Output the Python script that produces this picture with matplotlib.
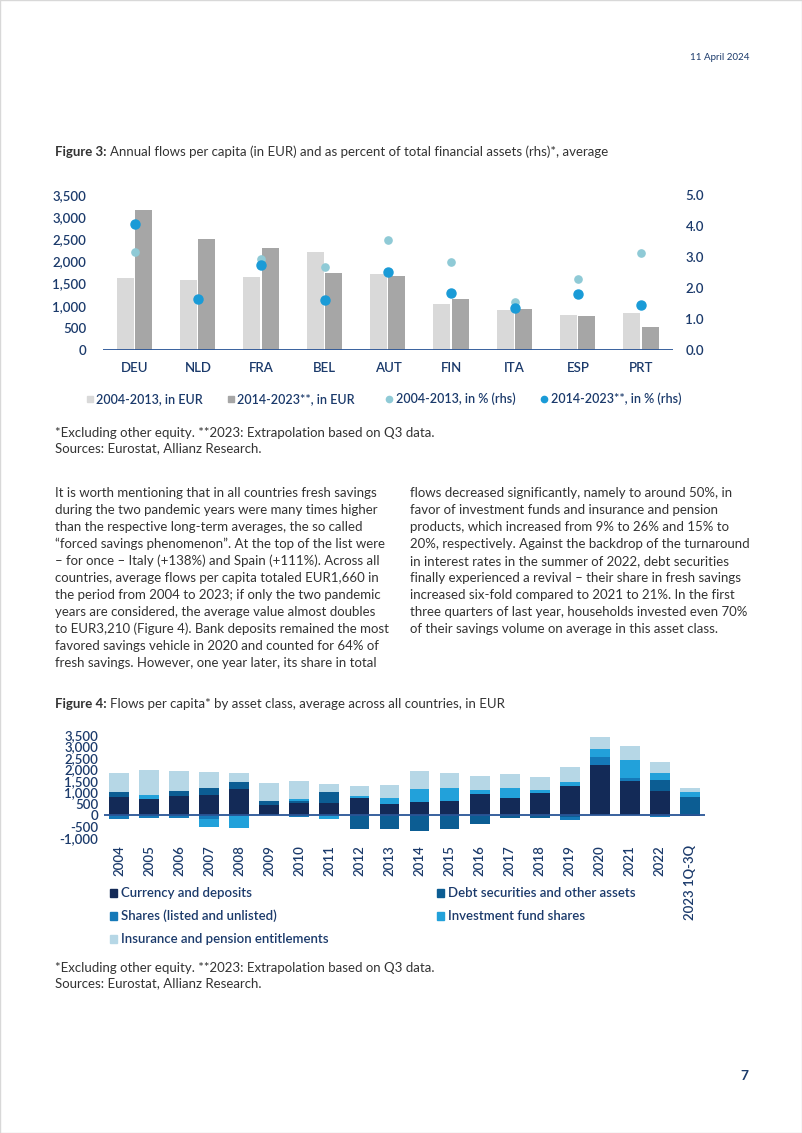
"""
Figures 3 and 4 of the savings flows page (Allianz Research, April 2024).
"""
import matplotlib

matplotlib.use("Agg")
import matplotlib.pyplot as plt
import numpy as np
from matplotlib.lines import Line2D
from matplotlib.patches import Rectangle

W, H = 802, 1133
NAVY = "#1b3a6b"
TEXT = "#333333"
FONT = ["Lato", "DejaVu Sans"]

plt.rcParams["font.family"] = FONT

# ---- Figure 3 data ----
countries = ["DEU", "NLD", "FRA", "BEL", "AUT", "FIN", "ITA", "ESP", "PRT"]
eur_0413 = [1630, 1590, 1655, 2220, 1715, 1030, 910, 785, 845]
eur_1423 = [3155, 2515, 2310, 1740, 1665, 1145, 935, 775, 525]
pct_0413 = [3.17, 1.63, 2.94, 2.69, 3.55, 2.85, 1.54, 2.30, 3.12]
pct_1423 = [4.08, 1.63, 2.75, 1.60, 2.53, 1.85, 1.34, 1.81, 1.45]

# ---- Figure 4 data ----
years = [str(y) for y in range(2004, 2023)] + ["2023 1Q-3Q"]
currency = [780, 720, 830, 880, 1140, 440, 510, 530, 735, 470,
            560, 630, 930, 740, 985, 1280, 2180, 1470, 1060, -40]
debt = [210, 0, 220, 310, 290, 175, 110, 470, -600, -600,
        -680, -600, -370, -120, -120, -75, 0, 0, 490, 810]
shares = [-150, -130, -130, -190, -40, 0, -90, 0, 0, 0,
          0, 0, 0, 0, 0, -160, 360, 150, -70, 0]
funds = [0, 140, 0, -310, -510, 0, 80, -190, 90, 260,
         560, 550, 160, 450, 130, 180, 350, 790, 280, 220]
insurance = [860, 1110, 890, 690, 400, 775, 780, 350, 440, 570,
             810, 680, 600, 620, 560, 660, 510, 590, 470, 150]

series4 = [
    ("Currency and deposits", currency, "#132a57"),
    ("Debt securities and other assets", debt, "#0c5d93"),
    ("Shares (listed and unlisted)", shares, "#1579b8"),
    ("Investment fund shares", funds, "#22a1da"),
    ("Insurance and pension entitlements", insurance, "#b6d7e6"),
]


def fy(py):
    return 1 - py / H


def fx(px):
    return px / W


def title_line(fig, px, py, bold, rest):
    t = fig.text(fx(px), fy(py), bold, fontsize=9.5, weight="bold", color=TEXT, va="center")
    r = fig.canvas.get_renderer()
    bb = t.get_window_extent(renderer=r)
    fig.text(bb.x1 / fig.dpi / fig.get_figwidth() + 0.004, fy(py), rest,
             fontsize=9.5, color=TEXT, va="center")


fig = plt.figure(figsize=(W / 100, H / 100), dpi=100)
fig.add_artist(Rectangle((0, 0), 1, 1, transform=fig.transFigure, fill=False,
                         edgecolor="#d8d8d8", lw=1))

fig.text(fx(750), fy(57), "11 April 2024", fontsize=7, color=NAVY, ha="right", va="center")
title_line(fig, 55, 152, "Figure 3:",
           "Annual flows per capita (in EUR) and as percent of total financial assets (rhs)*, average")

# ---- Figure 3 ----
ax1 = fig.add_axes([fx(103), fy(350), fx(673) - fx(103), fy(195) - fy(350)])
x = np.arange(len(countries))
bw = 0.27
ax1.bar(x - 0.15, eur_0413, bw, color="#d9d9d9", zorder=2)
ax1.bar(x + 0.14, eur_1423, bw, color="#a6a6a6", zorder=2)
ax1.set_xlim(-0.5, len(countries) - 0.5)
ax1.set_ylim(0, 3500)
ax1.set_yticks(range(0, 3501, 500))
ax1.set_yticklabels([f"{v:,}" for v in range(0, 3501, 500)])
ax1.set_xticks(x)
ax1.set_xticklabels(countries)
ax1.tick_params(axis="y", length=0, pad=12, labelsize=9.5, labelcolor=NAVY)
ax1.tick_params(axis="x", length=0, pad=9, labelsize=9.5, labelcolor=NAVY)
for s in ax1.spines.values():
    s.set_visible(False)
ax1.axhline(0, color="#2a5596", lw=1.3, zorder=3)

ax1r = ax1.twinx()
ax1r.plot(x, pct_0413, "o", color="#8fcad6", ms=5.2, zorder=4)
ax1r.plot(x, pct_1423, "o", color="#1a9bd7", ms=6.5, zorder=5)
ax1r.set_ylim(0, 5)
ax1r.set_yticks(np.arange(0, 5.1, 1.0))
ax1r.set_yticklabels([f"{v:.1f}" for v in np.arange(0, 5.1, 1.0)])
ax1r.tick_params(axis="y", length=0, pad=9, labelsize=9.5, labelcolor=NAVY)
for s in ax1r.spines.values():
    s.set_visible(False)
for lab in ax1.get_xticklabels() + ax1.get_yticklabels() + ax1r.get_yticklabels():
    lab.set_fontweight("semibold")

# legend of figure 3: (marker centre, text start)
leg1 = [
    (90, 96, "s", "#d9d9d9", "2004-2013, in EUR"),
    (231, 237, "s", "#a6a6a6", "2014-2023**, in EUR"),
    (389, 396, "o", "#8fcad6", "2004-2013, in % (rhs)"),
    (544, 551, "o", "#1a9bd7", "2014-2023**, in % (rhs)"),
]
for pm, pt, mk, col, lab in leg1:
    fig.add_artist(Line2D([fx(pm)], [fy(399)], marker=mk, color=col, ms=4.5,
                          ls="none", transform=fig.transFigure))
    fig.text(fx(pt), fy(399), lab, fontsize=9, color=NAVY, weight="semibold", va="center")

fig.text(fx(55), fy(433), "*Excluding other equity. **2023: Extrapolation based on Q3 data.",
         fontsize=9.5, color=TEXT, va="center")
fig.text(fx(55), fy(448), "Sources: Eurostat, Allianz Research.", fontsize=9.5, color=TEXT, va="center")

# ---- body text ----
left_col = [
    "It is worth mentioning that in all countries fresh savings",
    "during the two pandemic years were many times higher",
    "than the respective long-term averages, the so called",
    "\u201cforced savings phenomenon\u201d. At the top of the list were",
    "\u2013 for once \u2013 Italy (+138%) and Spain (+111%). Across all",
    "countries, average flows per capita totaled EUR1,660 in",
    "the period from 2004 to 2023; if only the two pandemic",
    "years are considered, the average value almost doubles",
    "to EUR3,210 (Figure 4). Bank deposits remained the most",
    "favored savings vehicle in 2020 and counted for 64% of",
    "fresh savings. However, one year later, its share in total",
]
right_col = [
    "flows decreased significantly, namely to around 50%, in",
    "favor of investment funds and insurance and pension",
    "products, which increased from 9% to 26% and 15% to",
    "20%, respectively. Against the backdrop of the turnaround",
    "in interest rates in the summer of 2022, debt securities",
    "finally experienced a revival \u2013 their share in fresh savings",
    "increased six-fold compared to 2021 to 21%. In the first",
    "three quarters of last year, households invested even 70%",
    "of their savings volume on average in this asset class.",
]
for i, line in enumerate(left_col):
    fig.text(fx(55), fy(493 + i * 17.0), line, fontsize=9.5, color=TEXT, va="center")
for i, line in enumerate(right_col):
    fig.text(fx(410), fy(493 + i * 17.0), line, fontsize=9.5, color=TEXT, va="center")

title_line(fig, 55, 704, "Figure 4:",
           "Flows per capita* by asset class, average across all countries, in EUR")

# ---- Figure 4 ----
ax2 = fig.add_axes([fx(104), fy(838), fx(705) - fx(104), fy(735) - fy(838)])
xi = np.arange(len(years))
pos_base = np.zeros(len(years))
neg_base = np.zeros(len(years))
for name, vals, col in series4:
    v = np.array(vals, dtype=float)
    pos = np.where(v > 0, v, 0)
    neg = np.where(v < 0, v, 0)
    ax2.bar(xi, pos, 0.66, bottom=pos_base, color=col, zorder=2)
    ax2.bar(xi, neg, 0.66, bottom=neg_base, color=col, zorder=2)
    pos_base += pos
    neg_base += neg
ax2.set_xlim(-0.5, len(years) - 0.5)
ax2.set_ylim(-1000, 3500)
ax2.set_yticks(range(-1000, 3501, 500))
ax2.set_yticklabels([f"{v:,}" for v in range(-1000, 3501, 500)])
ax2.set_xticks(xi)
ax2.set_xticklabels(years, rotation=90, va="top")
ax2.tick_params(axis="y", length=0, pad=4, labelsize=9.5, labelcolor=NAVY)
ax2.tick_params(axis="x", length=0, pad=5, labelsize=9.5, labelcolor=NAVY)
for lab in ax2.get_xticklabels() + ax2.get_yticklabels():
    lab.set_fontweight("semibold")
for s in ax2.spines.values():
    s.set_visible(False)
ax2.axhline(0, color="#2a5596", lw=1.3, zorder=3)

# legend of figure 4: (square left, text start, y)
leg2_pos = [(110, 121, 893), (437, 448, 893), (110, 121, 916), (437, 448, 916), (110, 121, 939)]
for (ps, pt, py), (name, _, col) in zip(leg2_pos, series4):
    fig.add_artist(Rectangle((fx(ps), fy(py + 4)), fx(7), 8 / H, color=col,
                             transform=fig.transFigure))
    fig.text(fx(pt), fy(py), name, fontsize=9.5, color=NAVY, weight="semibold", va="center")

fig.text(fx(55), fy(968), "*Excluding other equity. **2023: Extrapolation based on Q3 data.",
         fontsize=9.5, color=TEXT, va="center")
fig.text(fx(55), fy(983), "Sources: Eurostat, Allianz Research.", fontsize=9.5, color=TEXT, va="center")

fig.text(fx(748), fy(1076), "7", fontsize=10, color=NAVY, weight="bold", ha="right", va="center")

fig.savefig("out.png", dpi=100)
